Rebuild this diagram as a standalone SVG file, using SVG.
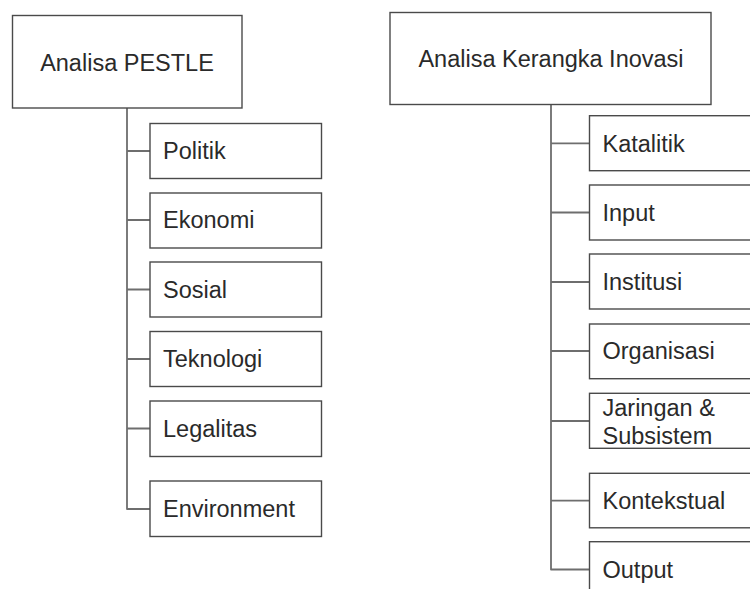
<svg xmlns="http://www.w3.org/2000/svg" width="750" height="589" viewBox="0 0 750 589">
<style>
.box{fill:#fff;stroke:#4a4a4a;stroke-width:1.4}
.con{fill:none;stroke:#6e6e6e;stroke-width:1.8;stroke-linejoin:round}
text{font-family:"Liberation Sans",Arial,sans-serif;font-size:23.5px;fill:#2a2a2a}
.c{text-anchor:middle}
</style>
<rect width="750" height="589" fill="#fff"/>
<g id="connectors">
<path class="con" d="M127,108 V509 H150 M127,151 H150 M127,220 H150 M127,289.5 H150 M127,359 H150 M127,428.5 H150"/>
<path class="con" d="M551,104 V569.5 H589 M551,143.3 H589 M551,212.5 H589 M551,282 H589 M551,351 H589 M551,421 H589 M551,500.7 H589"/>
</g>
<g id="pestle"><rect class="box" x="12.5" y="15.5" width="229.5" height="92.5"/><text class="c" x="127" y="71">Analisa PESTLE</text></g>
<g id="politik"><rect class="box" x="150" y="123.5" width="171.5" height="55"/><text x="163" y="159">Politik</text></g>
<g id="ekonomi"><rect class="box" x="150" y="193" width="171.5" height="55"/><text x="163" y="228">Ekonomi</text></g>
<g id="sosial"><rect class="box" x="150" y="262" width="171.5" height="55"/><text x="163" y="297.5">Sosial</text></g>
<g id="teknologi"><rect class="box" x="150" y="331.5" width="171.5" height="55"/><text x="163" y="367">Teknologi</text></g>
<g id="legalitas"><rect class="box" x="150" y="401" width="171.5" height="55.5"/><text x="163" y="436.5">Legalitas</text></g>
<g id="environment"><rect class="box" x="150" y="481" width="171.5" height="55.5"/><text x="163" y="517">Environment</text></g>
<g id="kerangka"><rect class="box" x="390" y="12.5" width="321" height="92"/><text class="c" x="551" y="67">Analisa Kerangka Inovasi</text></g>
<g id="katalitik"><rect class="box" x="589.5" y="115.7" width="200" height="55"/><text x="602.5" y="151.5">Katalitik</text></g>
<g id="input"><rect class="box" x="589.5" y="185" width="200" height="55"/><text x="602.5" y="220.5">Input</text></g>
<g id="institusi"><rect class="box" x="589.5" y="254" width="200" height="55"/><text x="602.5" y="290">Institusi</text></g>
<g id="organisasi"><rect class="box" x="589.5" y="324" width="200" height="54.7"/><text x="602.5" y="359">Organisasi</text></g>
<g id="jaringan"><rect class="box" x="589.5" y="393.3" width="200" height="55"/><text x="602.5" y="416">Jaringan &amp;</text><text x="602.5" y="443.5">Subsistem</text></g>
<g id="kontekstual"><rect class="box" x="589.5" y="473.3" width="200" height="54.5"/><text x="602.5" y="509">Kontekstual</text></g>
<g id="output"><rect class="box" x="589.5" y="541.7" width="200" height="55"/><text x="602.5" y="577.5">Output</text></g>
</svg>
